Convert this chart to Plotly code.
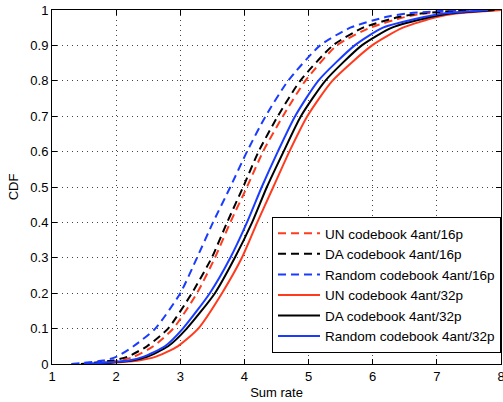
import plotly.graph_objects as go

# CDF levels and the sum-rate value at which each curve reaches that level
cdf_levels = [0, 0.01, 0.02, 0.05, 0.1, 0.2, 0.3, 0.4, 0.5, 0.6, 0.7, 0.8, 0.9, 0.95, 0.98, 0.99, 1.0]

un_16p = [1.5, 2.05, 2.27, 2.58, 2.89, 3.26, 3.54, 3.78, 4.04, 4.29, 4.60, 4.95, 5.44, 5.96, 6.5, 6.8, 7.5]
da_16p = [1.45, 1.95, 2.17, 2.48, 2.81, 3.18, 3.49, 3.73, 3.98, 4.22, 4.52, 4.87, 5.38, 5.85, 6.4, 6.75, 7.5]
rand_16p = [1.3, 1.8, 2.0, 2.27, 2.61, 3.0, 3.26, 3.51, 3.78, 4.04, 4.33, 4.68, 5.18, 5.65, 6.2, 6.53, 7.3]
un_32p = [1.7, 2.35, 2.61, 2.96, 3.28, 3.65, 3.96, 4.2, 4.45, 4.70, 4.98, 5.37, 5.99, 6.47, 7.0, 7.3, 8.0]
da_32p = [1.6, 2.25, 2.48, 2.81, 3.1, 3.54, 3.85, 4.12, 4.35, 4.61, 4.88, 5.26, 5.83, 6.3, 6.9, 7.2, 7.9]
rand_32p = [1.5, 2.2, 2.42, 2.76, 3.04, 3.46, 3.78, 4.04, 4.27, 4.52, 4.79, 5.15, 5.72, 6.16, 6.8, 7.1, 7.8]

RED = "#ff3b1e"
BLACK = "#000000"
BLUE = "#1a3cff"
DASH = "8px,5px"

series = [
    ("UN codebook 4ant/16p", un_16p, RED, DASH),
    ("DA codebook 4ant/16p", da_16p, BLACK, DASH),
    ("Random codebook 4ant/16p", rand_16p, BLUE, DASH),
    ("UN codebook 4ant/32p", un_32p, RED, "solid"),
    ("DA codebook 4ant/32p", da_32p, BLACK, "solid"),
    ("Random codebook 4ant/32p", rand_32p, BLUE, "solid"),
]

fig = go.Figure()
for name, xs, color, dash in series:
    fig.add_trace(go.Scatter(
        x=xs, y=cdf_levels, mode="lines", name=name,
        line=dict(color=color, width=2, dash=dash, shape="spline", smoothing=0.6)
    ))

axis_style = dict(
    showline=True, linecolor="black", linewidth=1, mirror="allticks",
    ticks="inside", ticklen=5, tickcolor="black",
    showgrid=True, gridcolor="#444", griddash="1px,4px", gridwidth=1,
    zeroline=False, tickfont=dict(size=13, color="black"), automargin=False,
    ticklabeloverflow="allow",
)

fig.update_layout(
    width=503, height=402,
    margin=dict(l=52, r=2, t=10, b=38),
    paper_bgcolor="white", plot_bgcolor="white",
    font=dict(family="Liberation Sans, Arial, sans-serif", color="black"),
    xaxis=dict(range=[1, 8], dtick=1,
               title=dict(text="Sum rate", font=dict(size=13), standoff=5), **axis_style),
    yaxis=dict(range=[0, 1], dtick=0.1,
               title=dict(text="CDF", font=dict(size=13), standoff=8), **axis_style),
    legend=dict(x=1, y=0.031, xanchor="right", yanchor="bottom",
                bgcolor="white", bordercolor="black", borderwidth=1,
                font=dict(size=13.5), tracegroupgap=0, itemwidth=42),
)

# drop the default 8px page margin so the figure sits at the window's corner
fig.write_html("out.html", config={"displayModeBar": False},
               post_script="document.body.style.margin='0';")
